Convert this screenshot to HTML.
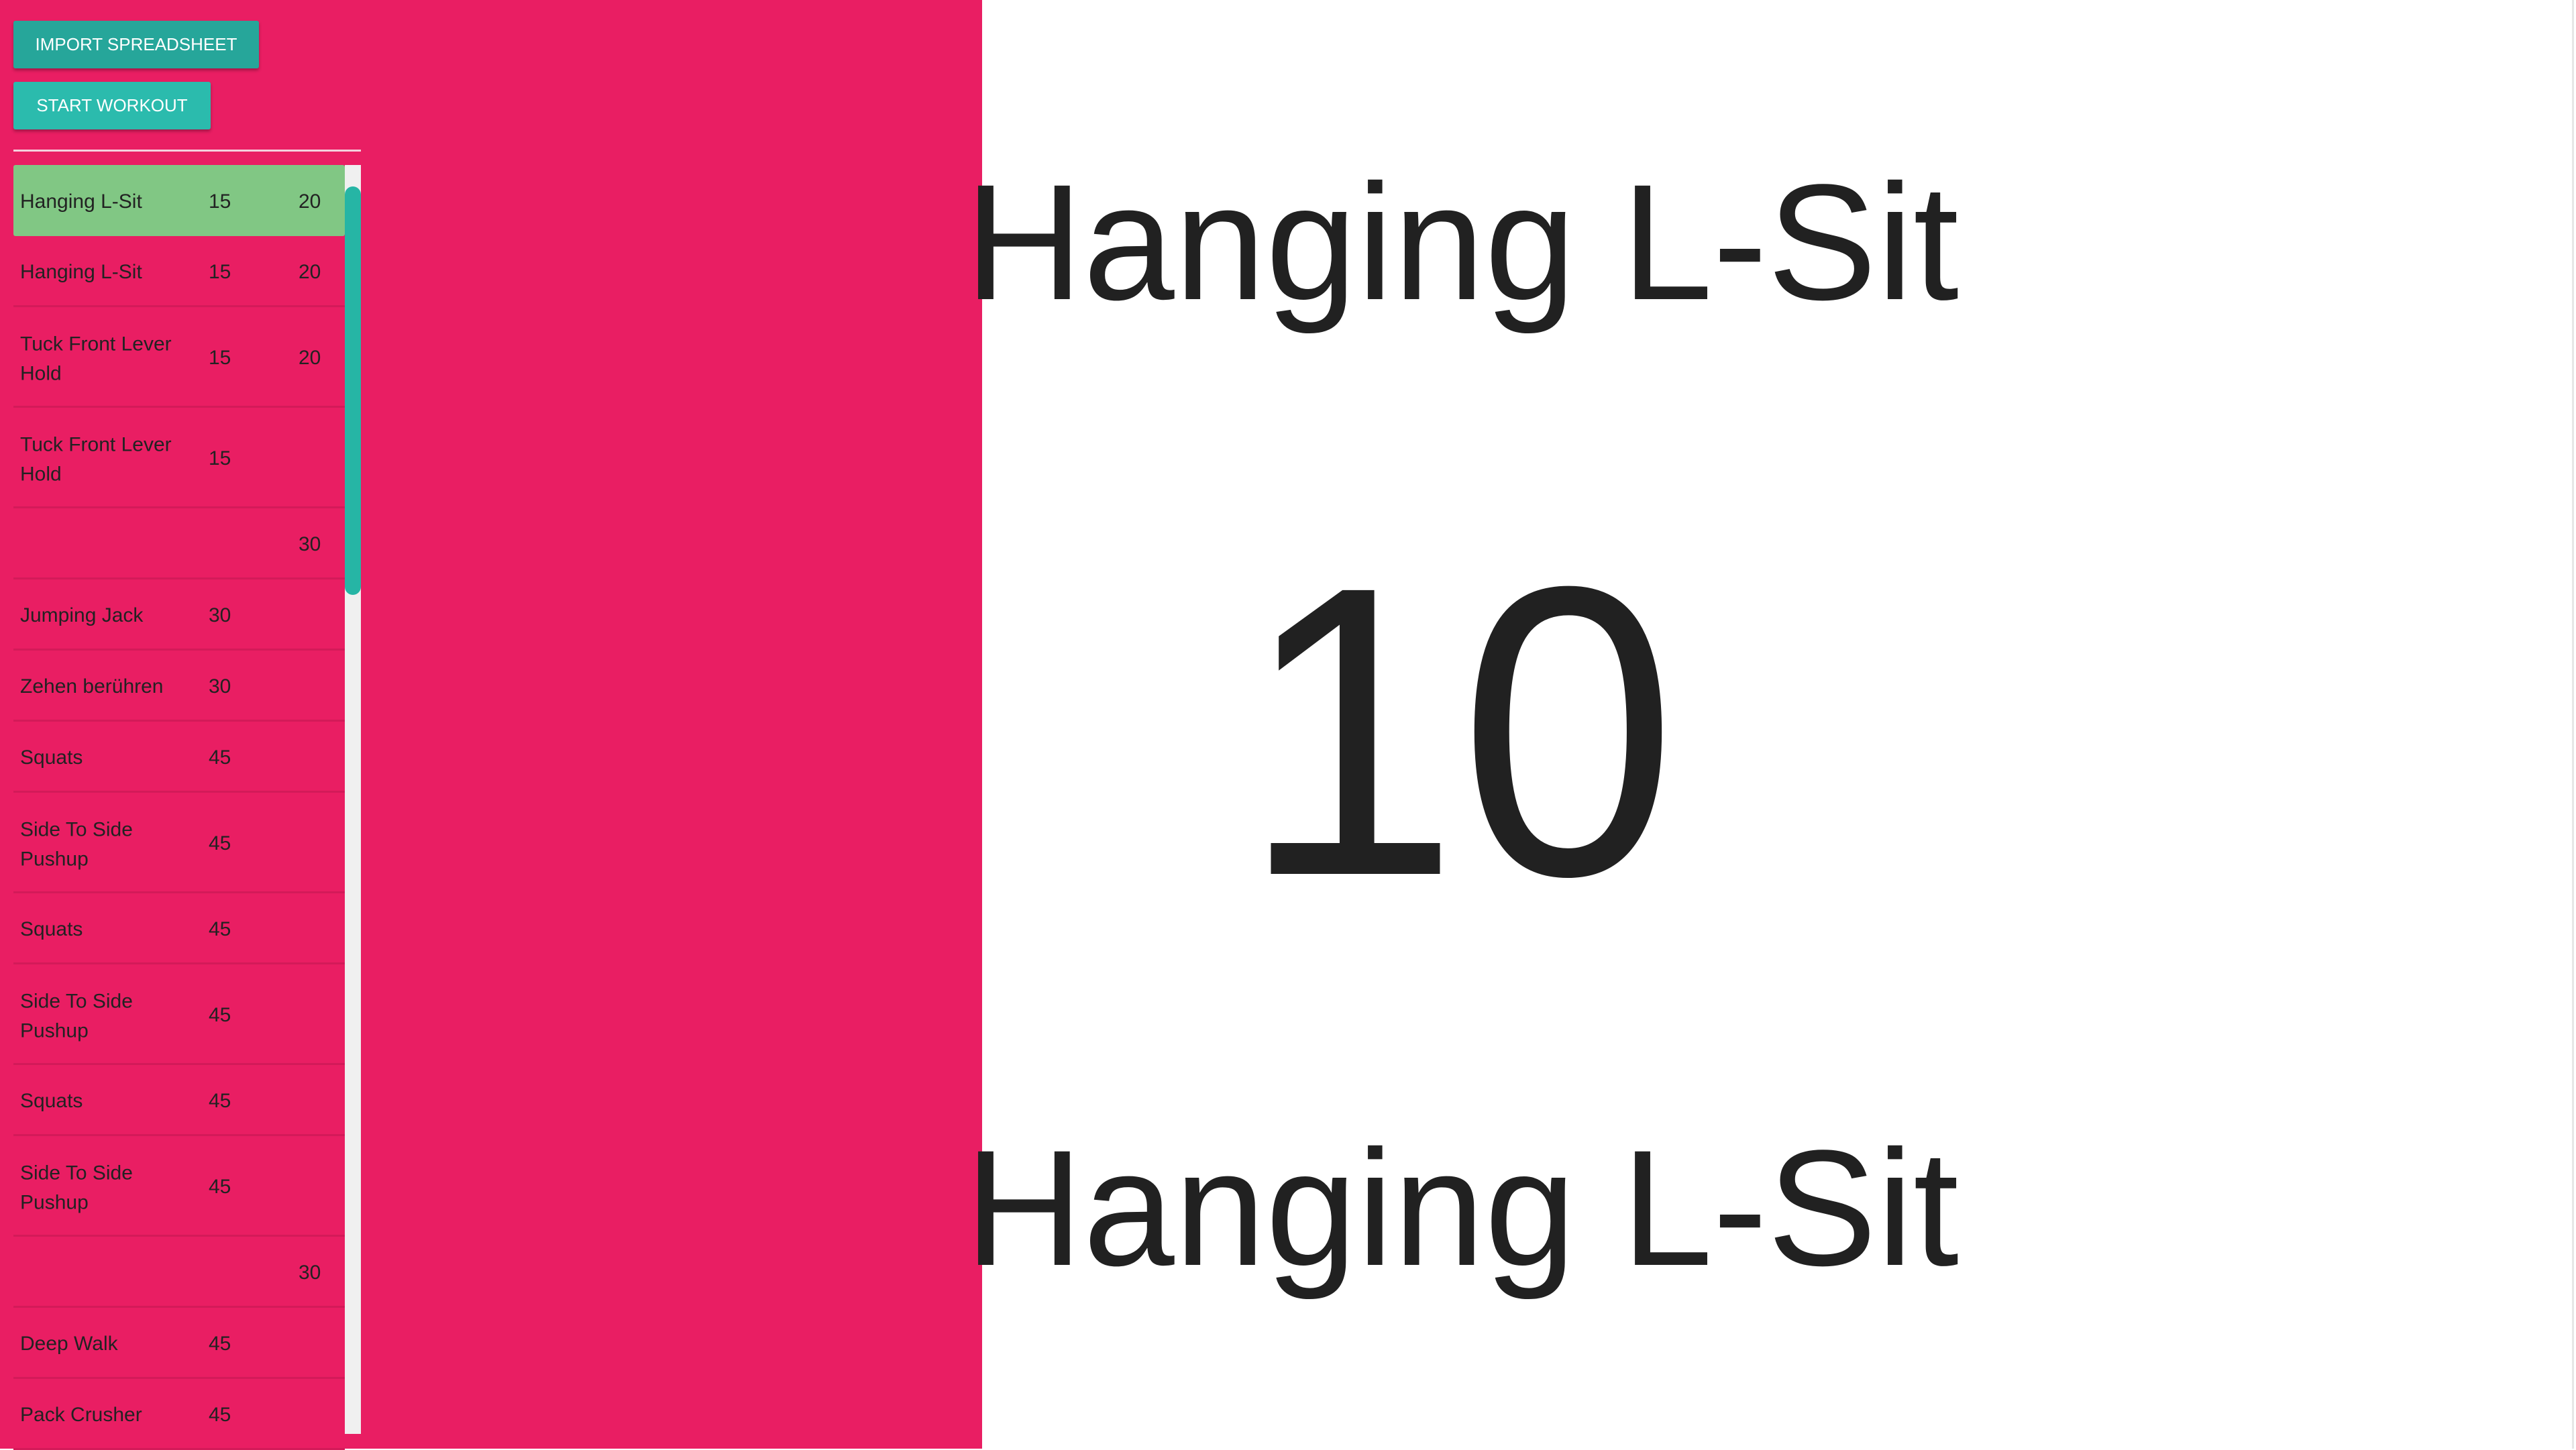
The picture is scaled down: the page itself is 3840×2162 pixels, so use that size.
<!DOCTYPE html>
<html><head><meta charset="utf-8"><style>
body{margin:0;width:3840px;height:2160px;overflow:hidden;background:#fff;font-family:"Liberation Sans",sans-serif;position:relative}
#left{position:absolute;left:0;top:0;width:1464px;height:2160px;background:#E91E63}
.btn{position:absolute;left:20px;color:#fff;font-size:26px;line-height:71px;text-align:center;border-radius:3px;box-shadow:0 3px 5px rgba(0,0,0,.3)}
#divider{position:absolute;left:20px;top:223px;width:518px;height:3px;background:#f4d0dc}
#list{position:absolute;left:20px;top:246px;width:494px}
.row{position:relative;border-bottom:3px solid #d31a59;box-sizing:border-box;font-size:30px;color:#222}
.row div{position:absolute;top:50%;transform:translateY(-46%);line-height:44px}
.c1{left:10px;width:260px}.c2{left:291px}.c3{left:425px}
#track{position:absolute;left:514px;top:246px;width:24px;height:1892px;background:#f0f0f0}
#thumb{position:absolute;left:514px;top:278px;width:24px;height:609px;background:#26b5a5;border-radius:12px}
</style></head><body>
<div id="left">
<div class="btn" style="top:31px;width:366px;background:#26A69A">IMPORT SPREADSHEET</div>
<div class="btn" style="top:122px;width:294px;background:#2BBBAD">START WORKOUT</div>
<div id="divider"></div>
<div id="list">
<div class="row" style="height:106px;background:#81C784;border-radius:3px;border:none"><div class="c1">Hanging L-Sit</div><div class="c2">15</div><div class="c3">20</div></div>
<div class="row" style="height:106px"><div class="c1">Hanging L-Sit</div><div class="c2">15</div><div class="c3">20</div></div>
<div class="row" style="height:150px"><div class="c1">Tuck Front Lever Hold</div><div class="c2">15</div><div class="c3">20</div></div>
<div class="row" style="height:150px"><div class="c1">Tuck Front Lever Hold</div><div class="c2">15</div></div>
<div class="row" style="height:106px"><div class="c3">30</div></div>
<div class="row" style="height:106px"><div class="c1">Jumping Jack</div><div class="c2">30</div></div>
<div class="row" style="height:106px"><div class="c1">Zehen berühren</div><div class="c2">30</div></div>
<div class="row" style="height:106px"><div class="c1">Squats</div><div class="c2">45</div></div>
<div class="row" style="height:150px"><div class="c1">Side To Side Pushup</div><div class="c2">45</div></div>
<div class="row" style="height:106px"><div class="c1">Squats</div><div class="c2">45</div></div>
<div class="row" style="height:150px"><div class="c1">Side To Side Pushup</div><div class="c2">45</div></div>
<div class="row" style="height:106px"><div class="c1">Squats</div><div class="c2">45</div></div>
<div class="row" style="height:150px"><div class="c1">Side To Side Pushup</div><div class="c2">45</div></div>
<div class="row" style="height:106px"><div class="c3">30</div></div>
<div class="row" style="height:106px"><div class="c1">Deep Walk</div><div class="c2">45</div></div>
<div class="row" style="height:106px"><div class="c1">Pack Crusher</div><div class="c2">45</div></div>
</div>
<div id="track"></div>
<div id="thumb"></div>
</div>
<svg style="position:absolute;left:0;top:0" width="3840" height="2160">
<text x="1438" y="446" font-family="Liberation Sans, sans-serif" font-size="246" fill="#212121" textLength="1482" lengthAdjust="spacingAndGlyphs">Hanging L-Sit</text>
<text x="1850" y="1303" font-family="Liberation Sans, sans-serif" font-size="615" fill="#212121" textLength="650" lengthAdjust="spacingAndGlyphs">10</text>
<text x="1438" y="1886" font-family="Liberation Sans, sans-serif" font-size="246" fill="#212121" textLength="1482" lengthAdjust="spacingAndGlyphs">Hanging L-Sit</text>
<rect x="3834" y="0" width="3" height="2160" fill="#e6e6e6"/>
</svg>
</body></html>
